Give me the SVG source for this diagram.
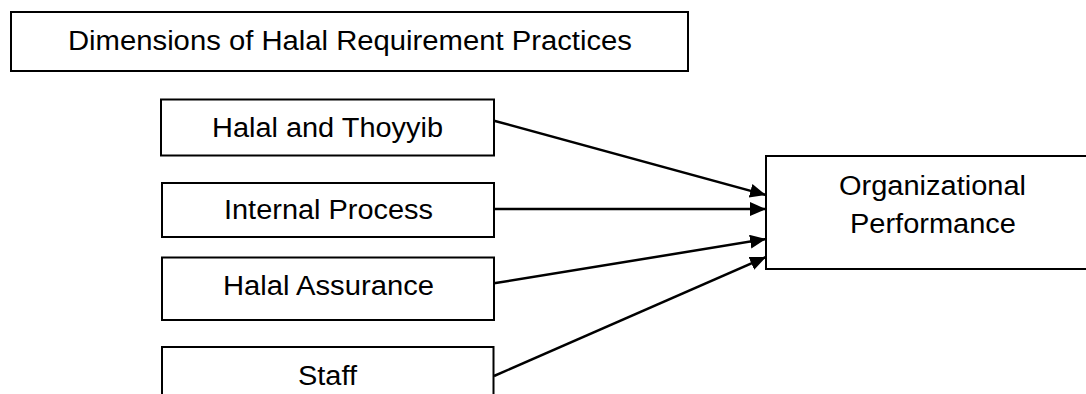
<svg xmlns="http://www.w3.org/2000/svg" width="1086" height="394" viewBox="0 0 1086 394">
<style>
.box{fill:#fff;stroke:#000;stroke-width:2}
.t{font-family:"Liberation Sans",Arial,sans-serif;font-size:27px;fill:#000;text-anchor:middle}
.c{stroke:#000;stroke-width:2.5;fill:none;marker-end:url(#ah)}
</style>
<defs>
<marker id="ah" markerUnits="userSpaceOnUse" markerWidth="18" markerHeight="16" refX="16" refY="7" orient="auto">
<path d="M0,0 L16,7 L0,14 Z" fill="#000"/>
</marker>
</defs>
<rect width="1086" height="394" fill="#fff"/>
<g id="title">
<rect class="box" x="11" y="12" width="677" height="59"/>
<text class="t" x="350" y="49.5" textLength="564" lengthAdjust="spacingAndGlyphs">Dimensions of Halal Requirement Practices</text>
</g>
<g id="halal-thoyyib">
<rect class="box" x="161" y="99.5" width="333" height="56"/>
<text class="t" x="327.5" y="136.5" textLength="231" lengthAdjust="spacingAndGlyphs">Halal and Thoyyib</text>
</g>
<g id="internal-process">
<rect class="box" x="162" y="183" width="332" height="54"/>
<text class="t" x="328.5" y="219" textLength="209" lengthAdjust="spacingAndGlyphs">Internal Process</text>
</g>
<g id="halal-assurance">
<rect class="box" x="162" y="257.5" width="332" height="62.5"/>
<text class="t" x="328.5" y="295" textLength="211" lengthAdjust="spacingAndGlyphs">Halal Assurance</text>
</g>
<g id="staff">
<rect class="box" x="162" y="347" width="331.5" height="60"/>
<text class="t" x="327.5" y="384.5" textLength="59" lengthAdjust="spacingAndGlyphs">Staff</text>
</g>
<g id="org-performance">
<rect class="box" x="766" y="156" width="333" height="113"/>
<text class="t" x="932.5" y="195" textLength="187" lengthAdjust="spacingAndGlyphs">Organizational</text>
<text class="t" x="933" y="233" textLength="166" lengthAdjust="spacingAndGlyphs">Performance</text>
</g>
<g id="connectors">
<line class="c" x1="494" y1="120.7" x2="766" y2="195"/>
<line class="c" x1="494" y1="209" x2="766" y2="209"/>
<line class="c" x1="494" y1="283.3" x2="766" y2="239"/>
<line class="c" x1="494" y1="376" x2="766" y2="257"/>
</g>
</svg>
